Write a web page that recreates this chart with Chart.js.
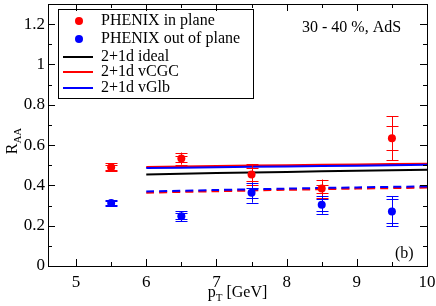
<!DOCTYPE html>
<html>
<head>
<meta charset="utf-8">
<script src="https://cdn.jsdelivr.net/npm/chart.js@4.4.0/dist/chart.umd.min.js"></script>
<style>
  html, body { margin: 0; padding: 0; background: #fff; }
</style>
</head>
<body>
<canvas id="chart" width="436" height="306"></canvas>
<script>
  // PHENIX data points
  const ptBins = [5.5, 6.5, 7.5, 8.5, 9.5];
  const inPlane = [0.49, 0.533, 0.454, 0.384, 0.634];
  const inPlaneStat = [0.012, 0.015, 0.03, 0.02, 0.06];
  const inPlaneSys = [0.02, 0.03, 0.05, 0.045, 0.11];
  const outPlane = [0.312, 0.247, 0.364, 0.304, 0.271];
  const outPlaneStat = [0.01, 0.015, 0.025, 0.03, 0.06];
  const outPlaneSys = [0.015, 0.025, 0.05, 0.045, 0.075];

  // model curves
  const ptCurve = [6, 7, 8, 9, 10];
  const idealIn = [0.454, 0.461, 0.467, 0.473, 0.478];
  const cgcIn = [0.491, 0.496, 0.500, 0.504, 0.507];
  const glbIn = [0.486, 0.490, 0.494, 0.498, 0.502];
  const cgcOut = [0.364, 0.371, 0.378, 0.384, 0.389];
  const glbOut = [0.370, 0.377, 0.384, 0.390, 0.395];

  const xTicks = [5, 6, 7, 8, 9, 10];
  const yTicks = [0, 0.2, 0.4, 0.6, 0.8, 1, 1.2];

  const serif = '"Liberation Serif", "DejaVu Serif", serif';
  const RED = '#ff0000', BLUE = '#0000ff';

  const pts = (xs, ys) => xs.map((x, i) => ({ x: x, y: ys[i] }));

  const scatterSet = (label, ys, stat, sys, color) => ({
    type: 'scatter', label: label, data: pts(ptBins, ys),
    errStat: stat, errSys: sys,
    backgroundColor: color, borderColor: color, pointRadius: 4, pointBorderWidth: 0
  });
  const curveSet = (label, ys, color, dash) => ({
    type: 'line', label: label, data: pts(ptCurve, ys),
    borderColor: color, borderWidth: 2, borderDash: dash || [],
    pointRadius: 0, fill: false, tension: 0.3
  });

  // error bars, drawn through the scales
  const errorBars = {
    id: 'errorBars',
    afterDatasetsDraw(chart) {
      const ctx = chart.ctx;
      const xs = chart.scales.x, ys = chart.scales.y;
      chart.data.datasets.forEach(ds => {
        if (!ds.errStat) return;
        ctx.save();
        ctx.strokeStyle = ds.borderColor;
        ctx.lineWidth = 1;
        ds.data.forEach((p, i) => {
          const x = Math.round(xs.getPixelForValue(p.x)) + 0.5;
          const top = ys.getPixelForValue(p.y + ds.errSys[i]);
          const bot = ys.getPixelForValue(p.y - ds.errSys[i]);
          const sTop = ys.getPixelForValue(p.y + ds.errStat[i]);
          const sBot = ys.getPixelForValue(p.y - ds.errStat[i]);
          ctx.beginPath();
          ctx.moveTo(x, top); ctx.lineTo(x, bot);
          [top, bot, sTop, sBot].forEach(y => {
            const yy = Math.round(y) + 0.5;
            ctx.moveTo(x - 6, yy); ctx.lineTo(x + 6, yy);
          });
          ctx.stroke();
        });
        ctx.restore();
      });
    }
  };

  // frame, inward ticks, titles, legend and notes
  const decorations = {
    id: 'decorations',
    afterDraw(chart) {
      const ctx = chart.ctx;
      const a = chart.chartArea;
      const xs = chart.scales.x, ys = chart.scales.y;
      ctx.save();
      ctx.strokeStyle = '#000';
      ctx.lineWidth = 1;
      ctx.strokeRect(Math.round(a.left) + 0.5, Math.round(a.top) + 0.5,
        Math.round(a.right - a.left), Math.round(a.bottom - a.top));

      ctx.beginPath();
      for (let v = 5; v <= 10.001; v += 0.5) {
        const x = Math.round(xs.getPixelForValue(v)) + 0.5;
        const len = Math.abs(v - Math.round(v)) < 0.01 ? 7 : 4;
        ctx.moveTo(x, a.bottom); ctx.lineTo(x, a.bottom - len);
        ctx.moveTo(x, a.top); ctx.lineTo(x, a.top + len);
      }
      for (let k = 0; k <= 12; k++) {
        const v = k / 10;
        const y = Math.round(ys.getPixelForValue(v)) + 0.5;
        const len = k % 2 === 0 ? 7 : 4;
        ctx.moveTo(a.left, y); ctx.lineTo(a.left + len, y);
        ctx.moveTo(a.right, y); ctx.lineTo(a.right - len, y);
      }
      ctx.stroke();

      ctx.fillStyle = '#000';
      // y title R_AA
      ctx.save();
      ctx.translate(17, 141);
      ctx.rotate(-Math.PI / 2);
      ctx.textBaseline = 'alphabetic';
      ctx.textAlign = 'left';
      ctx.font = '16px ' + serif;
      const wR = ctx.measureText('R').width;
      ctx.font = '11px ' + serif;
      const wAA = ctx.measureText('AA').width;
      const x0 = -(wR + wAA) / 2;
      ctx.font = '16px ' + serif;
      ctx.fillText('R', x0, 0);
      ctx.font = '11px ' + serif;
      ctx.fillText('AA', x0 + wR, 4);
      ctx.restore();

      // x title p_T [GeV]
      ctx.font = '16px ' + serif;
      const wp = ctx.measureText('p').width;
      const wRest = ctx.measureText(' [GeV]').width;
      ctx.font = '11px ' + serif;
      const wT = ctx.measureText('T').width;
      let xt = (a.left + a.right) / 2 - (wp + wT + wRest) / 2;
      ctx.textAlign = 'left';
      ctx.textBaseline = 'alphabetic';
      ctx.font = '16px ' + serif;
      ctx.fillText('p', xt, 297);
      ctx.font = '11px ' + serif;
      ctx.fillText('T', xt + wp, 301);
      ctx.font = '16px ' + serif;
      ctx.fillText(' [GeV]', xt + wp + wT, 297);

      // notes
      ctx.textBaseline = 'middle';
      ctx.fillText('30 - 40 %, AdS', 302, 28);
      ctx.fillText('(b)', 395, 254);

      // legend
      ctx.strokeRect(58.5, 9.5, 195, 89);
      const rows = [
        { kind: 'dot', color: RED, text: 'PHENIX in plane', y: 21 },
        { kind: 'dot', color: BLUE, text: 'PHENIX out of plane', y: 39 },
        { kind: 'line', color: '#000', text: '2+1d ideal', y: 57 },
        { kind: 'line', color: RED, text: '2+1d vCGC', y: 72 },
        { kind: 'line', color: BLUE, text: '2+1d vGlb', y: 88 }
      ];
      rows.forEach(r => {
        if (r.kind === 'dot') {
          ctx.beginPath();
          ctx.fillStyle = r.color;
          ctx.arc(79, r.y, 4, 0, Math.PI * 2);
          ctx.fill();
        } else {
          ctx.beginPath();
          ctx.strokeStyle = r.color;
          ctx.lineWidth = 2;
          ctx.moveTo(63, r.y); ctx.lineTo(93, r.y);
          ctx.stroke();
        }
        ctx.fillStyle = '#000';
        ctx.fillText(r.text, 101, r.y);
      });
      ctx.restore();
    }
  };

  new Chart(document.getElementById('chart'), {
    data: {
      datasets: [
        scatterSet('PHENIX in plane', inPlane, inPlaneStat, inPlaneSys, RED),
        scatterSet('PHENIX out of plane', outPlane, outPlaneStat, outPlaneSys, BLUE),
        curveSet('2+1d vGlb', glbIn, BLUE),
        curveSet('2+1d vGlb out', glbOut, BLUE, [8, 5]),
        curveSet('2+1d vCGC', cgcIn, RED),
        curveSet('2+1d vCGC out', cgcOut, RED, [8, 5]),
        curveSet('2+1d ideal', idealIn, '#000')
      ]
    },
    options: {
      responsive: false,
      animation: false,
      layout: { padding: { top: 1, right: 9, left: 0, bottom: 0 } },
      plugins: { legend: { display: false }, tooltip: { enabled: false } },
      scales: {
        x: {
          type: 'linear', min: 4.6, max: 10,
          grid: { display: false, drawTicks: false },
          border: { display: false },
          afterBuildTicks: s => { s.ticks = xTicks.map(v => ({ value: v })); },
          afterFit: s => { s.height = 40; s.paddingLeft = 0; s.paddingRight = 0; },
          ticks: { color: '#000', padding: 6, font: { family: serif, size: 17 } }
        },
        y: {
          type: 'linear', min: 0, max: 1.3,
          grid: { display: false, drawTicks: false },
          border: { display: false },
          afterBuildTicks: s => { s.ticks = yTicks.map(v => ({ value: v })); },
          afterFit: s => { s.width = 48; s.paddingTop = 0; s.paddingBottom = 0; },
          ticks: {
            color: '#000', padding: 3, font: { family: serif, size: 17 },
            callback: v => String(Math.round(v * 10) / 10)
          }
        }
      }
    },
    plugins: [errorBars, decorations]
  });
</script>
</body>
</html>
